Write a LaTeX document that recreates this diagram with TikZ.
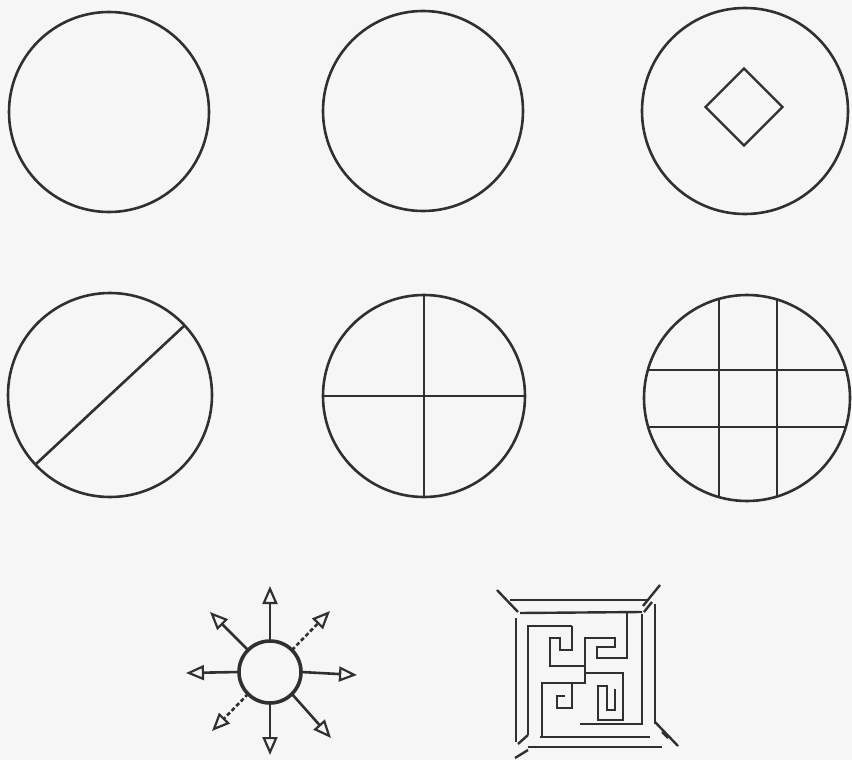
\documentclass[tikz,border=0pt]{standalone}
\usetikzlibrary{shapes.geometric,arrows.meta,calc}
\definecolor{ink}{HTML}{303030}
\definecolor{paper}{HTML}{F6F6F6}
\begin{document}
\begin{tikzpicture}[x=1pt,y=-1pt,
  ring/.style={draw=ink,circle,line width=2.6pt,inner sep=0pt,outer sep=0pt},
  chord/.style={draw=ink,line width=2.6pt},
  ray/.style={draw=ink,line width=2.6pt,-{Triangle[open,length=18pt,width=15pt,line width=2.2pt]}},
  dray/.style={ray,dash pattern=on 4pt off 2.5pt},
  maze/.style={draw=ink,line width=2.4pt,line join=miter}]
\fill[paper] (0,0) rectangle (852,760);
\useasboundingbox (0,0) rectangle (852,760);
% row 1
\node[ring,minimum size=200pt] (c1) at (109,112) {};
\node[ring,minimum size=200pt] (c2) at (423,111) {};
\node[ring,minimum size=206pt] (c3) at (745,111) {};
\node[draw=ink,diamond,line width=2.4pt,inner sep=0pt,minimum size=78pt] (dm) at (744,107) {};
% row 2
\node[ring,minimum size=204pt] (c4) at (110,395) {};
\draw[chord] (c4.43) -- (c4.223);
\node[ring,minimum size=202pt] (c5) at (424,396) {};
\draw[chord] (c5.north) -- (c5.south);
\draw[chord] (c5.west) -- (c5.east);
\node[ring,minimum size=206pt] (c6) at (747,398) {};
\draw[chord] ($(c6.center)+(-28,-99.1)$) -- ($(c6.center)+(-28,99.1)$);
\draw[chord] ($(c6.center)+(30,-98.5)$) -- ($(c6.center)+(30,98.5)$);
\draw[chord] ($(c6.center)+(-99.1,-28)$) -- ($(c6.center)+(99.1,-28)$);
\draw[chord] ($(c6.center)+(-98.8,29)$) -- ($(c6.center)+(98.8,29)$);
% sun
\node[ring,line width=3.6pt,minimum size=62pt] (sun) at (270,672) {};
\coordinate (tn) at (270,586);
\coordinate (ts) at (270,755);
\coordinate (te) at (357,675);
\coordinate (tw) at (186,673);
\coordinate (tne) at (330,611);
\coordinate (tnw) at (210,612);
\coordinate (tsw) at (212,731);
\coordinate (tse) at (331,738);
\draw[ray] (sun.north) -- (tn);
\draw[ray] (sun.south) -- (ts);
\draw[ray] (sun.east) -- (te);
\draw[ray] (sun.west) -- (tw);
\draw[dray] (sun.45) -- (tne);
\draw[ray] (sun.135) -- (tnw);
\draw[dray] (sun.225) -- (tsw);
\draw[ray] (sun.-45) -- (tse);
% labyrinth frame
\draw[maze] (510,600) -- (648,600);
\draw[maze] (655,604) -- (655,724);
\draw[maze] (528,747) -- (662,747);
\draw[maze] (516,618) -- (516,742);
\draw[maze] (520,613) -- (642,612);
\draw[maze] (642,614) -- (642,724) -- (580,724);
\draw[maze] (540,737) -- (650,737);
\draw[maze] (528,735) -- (528,626) -- (572,626);
% corner strokes
\draw[maze] (497,590) -- (518,612);
\draw[maze] (660,585) -- (643,606);
\draw[maze] (652,602) -- (644,612);
\draw[maze] (655,722) -- (678,746);
\draw[maze] (662,732) -- (668,738);
\draw[maze] (528,735) -- (518,744);
\draw[maze] (528,750) -- (515,758);
% swastika meander
\draw[maze] (585,670) -- (585,638) -- (615,638) -- (615,647) -- (597,647) -- (597,658) -- (627,658) -- (627,613);
\draw[maze] (585,666) -- (550,666) -- (550,638) -- (560,638) -- (560,650) -- (572,650) -- (572,626);
\draw[maze] (585,670) -- (585,673) -- (623,673) -- (623,720) -- (598,720) -- (598,686) -- (607,686) -- (607,710) -- (615,710) -- (615,689);
\draw[maze] (585,673) -- (585,683) -- (542,683) -- (542,737);
\draw[maze] (572,683) -- (572,708) -- (557,708) -- (557,696) -- (565,696);
\end{tikzpicture}
\end{document}
